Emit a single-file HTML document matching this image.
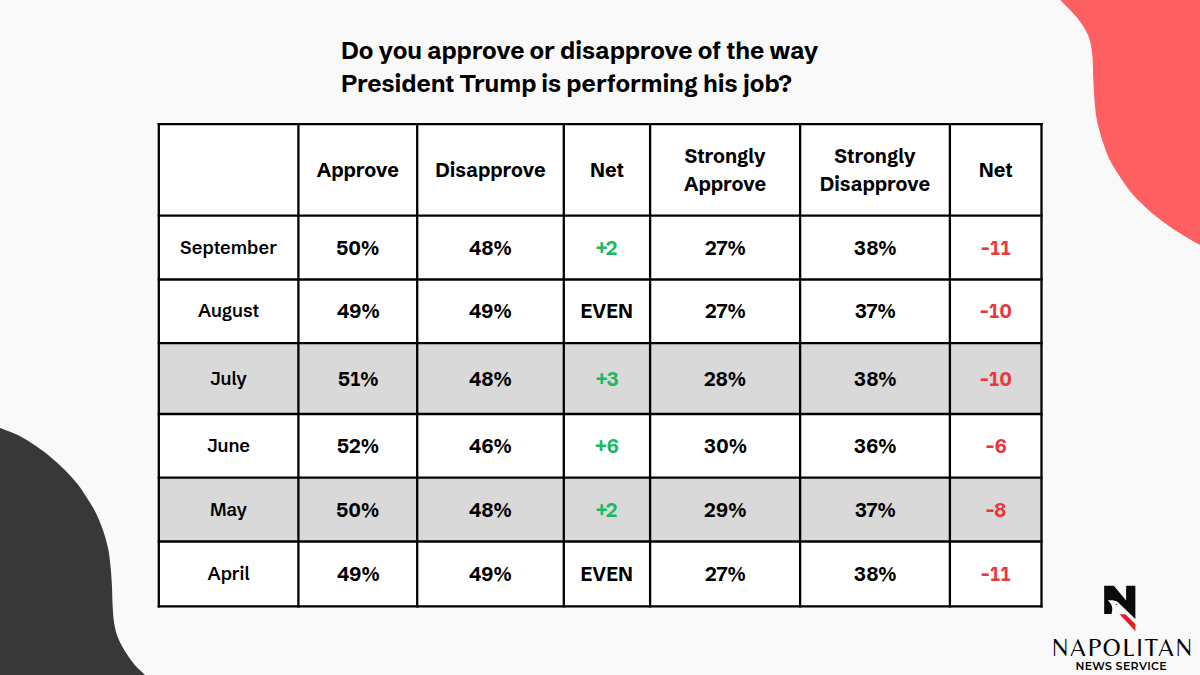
<!DOCTYPE html>
<html><head><meta charset="utf-8"><style>
html,body{margin:0;padding:0}
body{width:1200px;height:675px;position:relative;overflow:hidden;background:#f9f9f9;font-family:"Schibsted Grotesk","Liberation Sans",sans-serif;color:#000}
.abs{position:absolute}
svg.bg{position:absolute;left:0;top:0}
.title{position:absolute;left:341px;top:34px;font-size:24px;font-weight:660;line-height:33px;white-space:nowrap;letter-spacing:0}
.c{position:absolute;display:flex;align-items:center;justify-content:center;text-align:center;white-space:nowrap}
.c span{display:block}
.h{font-size:19.6px;font-weight:700;line-height:28px}
.l{font-size:18.2px;font-weight:600;line-height:20px}
.v{font-size:20.5px;font-weight:700;line-height:20px}
.v span{transform:scaleX(0.95)}
.one{font-family:'IBM Plex Sans Condensed','Liberation Sans',sans-serif}
.one{font-weight:inherit}
.g{color:#1bb960}
.r{color:#e9383c}
.logo1{position:absolute;left:1052px;top:634px;font-family:Belleza,'Liberation Sans',sans-serif;font-size:24.5px;font-weight:400;letter-spacing:1.8px;line-height:26px;white-space:nowrap}
.logo2{position:absolute;left:1075px;top:660px;font-family:Montserrat,'Liberation Sans',sans-serif;font-size:11px;font-weight:600;letter-spacing:0.4px;line-height:12px;white-space:nowrap}
</style></head><body>
<svg class="bg" width="1200" height="675" viewBox="0 0 1200 675">
<path d="M1056.50,-4.00 C1057.12,-3.33 1056.77,-3.63 1060.20,0.00 C1063.63,3.63 1072.43,11.87 1077.10,17.80 C1081.77,23.73 1085.67,29.40 1088.20,35.60 C1090.73,41.80 1091.45,47.60 1092.30,55.00 C1093.15,62.40 1092.93,72.43 1093.30,80.00 C1093.67,87.57 1093.97,94.07 1094.50,100.40 C1095.03,106.73 1095.67,112.90 1096.50,118.00 C1097.33,123.10 1098.37,126.78 1099.50,131.00 C1100.63,135.22 1101.63,138.55 1103.30,143.30 C1104.97,148.05 1106.98,154.32 1109.50,159.50 C1112.02,164.68 1114.87,169.00 1118.40,174.40 C1121.93,179.80 1126.78,187.02 1130.70,191.90 C1134.62,196.78 1137.85,199.75 1141.90,203.70 C1145.95,207.65 1150.15,211.65 1155.00,215.60 C1159.85,219.55 1165.18,223.45 1171.00,227.40 C1176.82,231.35 1185.07,236.37 1189.90,239.30 C1194.73,242.23 1196.98,243.30 1200.00,245.00 C1203.02,246.70 1206.67,248.75 1208.00,249.50 L1210,249.5 L1210,-4 Z" fill="#fe6062"/>
<path d="M-6.00,426.00 C-5.00,426.33 -3.97,426.48 0.00,428.00 C3.97,429.52 11.87,432.13 17.80,435.10 C23.73,438.07 30.20,442.20 35.60,445.80 C41.00,449.40 45.32,452.67 50.20,456.70 C55.08,460.73 60.45,465.57 64.90,470.00 C69.35,474.43 73.35,478.85 76.90,483.30 C80.45,487.75 83.12,491.93 86.20,496.70 C89.28,501.47 92.63,506.42 95.40,511.90 C98.17,517.38 100.72,523.68 102.80,529.60 C104.88,535.52 106.63,541.50 107.90,547.40 C109.17,553.30 109.73,558.73 110.40,565.00 C111.07,571.27 111.53,578.33 111.90,585.00 C112.27,591.67 112.25,598.78 112.60,605.00 C112.95,611.22 113.18,617.07 114.00,622.30 C114.82,627.53 115.73,631.70 117.50,636.40 C119.27,641.10 121.78,645.80 124.60,650.50 C127.42,655.20 131.00,660.52 134.40,664.60 C137.80,668.68 142.57,672.60 145.00,675.00 C147.43,677.40 148.33,678.33 149.00,679.00 L-6,679 Z" fill="#383838"/>
<rect x="158.8" y="124.1" width="882.7" height="91.5" fill="#ffffff"/><rect x="158.8" y="215.6" width="882.7" height="63.900000000000006" fill="#ffffff"/><rect x="158.8" y="279.5" width="882.7" height="63.69999999999999" fill="#ffffff"/><rect x="158.8" y="343.2" width="882.7" height="70.80000000000001" fill="#d9d9d9"/><rect x="158.8" y="414.0" width="882.7" height="63.69999999999999" fill="#ffffff"/><rect x="158.8" y="477.7" width="882.7" height="63.80000000000001" fill="#d9d9d9"/><rect x="158.8" y="541.5" width="882.7" height="64.89999999999998" fill="#ffffff"/><line x1="158.8" y1="122.94999999999999" x2="158.8" y2="607.55" stroke="#000" stroke-width="2.3"/><line x1="298.4" y1="122.94999999999999" x2="298.4" y2="607.55" stroke="#000" stroke-width="2.3"/><line x1="417.2" y1="122.94999999999999" x2="417.2" y2="607.55" stroke="#000" stroke-width="2.3"/><line x1="563.8" y1="122.94999999999999" x2="563.8" y2="607.55" stroke="#000" stroke-width="2.3"/><line x1="650.1" y1="122.94999999999999" x2="650.1" y2="607.55" stroke="#000" stroke-width="2.3"/><line x1="800.1" y1="122.94999999999999" x2="800.1" y2="607.55" stroke="#000" stroke-width="2.3"/><line x1="949.9" y1="122.94999999999999" x2="949.9" y2="607.55" stroke="#000" stroke-width="2.3"/><line x1="1041.5" y1="122.94999999999999" x2="1041.5" y2="607.55" stroke="#000" stroke-width="2.3"/><line x1="157.65" y1="124.1" x2="1042.65" y2="124.1" stroke="#000" stroke-width="2.3"/><line x1="157.65" y1="215.6" x2="1042.65" y2="215.6" stroke="#000" stroke-width="2.3"/><line x1="157.65" y1="279.5" x2="1042.65" y2="279.5" stroke="#000" stroke-width="2.3"/><line x1="157.65" y1="343.2" x2="1042.65" y2="343.2" stroke="#000" stroke-width="2.3"/><line x1="157.65" y1="414.0" x2="1042.65" y2="414.0" stroke="#000" stroke-width="2.3"/><line x1="157.65" y1="477.7" x2="1042.65" y2="477.7" stroke="#000" stroke-width="2.3"/><line x1="157.65" y1="541.5" x2="1042.65" y2="541.5" stroke="#000" stroke-width="2.3"/><line x1="157.65" y1="606.4" x2="1042.65" y2="606.4" stroke="#000" stroke-width="2.3"/>
</svg>
<div class="title">Do you approve or disapprove of the way<br>President Trump is performing his job?</div>
<div class="c h" style="left:298.4px;top:124.1px;width:118.8px;height:91.5px"><span>Approve</span></div><div class="c h" style="left:417.2px;top:124.1px;width:146.6px;height:91.5px"><span>Disapprove</span></div><div class="c h" style="left:563.8px;top:124.1px;width:86.3px;height:91.5px"><span>Net</span></div><div class="c h" style="left:650.1px;top:124.1px;width:150.0px;height:91.5px"><span>Strongly<br>Approve</span></div><div class="c h" style="left:800.1px;top:124.1px;width:149.8px;height:91.5px"><span>Strongly<br>Disapprove</span></div><div class="c h" style="left:949.9px;top:124.1px;width:91.6px;height:91.5px"><span>Net</span></div><div class="c l" style="left:158.8px;top:215.6px;width:139.6px;height:63.9px"><span>September</span></div><div class="c v" style="left:298.4px;top:215.6px;width:118.8px;height:63.9px"><span>50%</span></div><div class="c v" style="left:417.2px;top:215.6px;width:146.6px;height:63.9px"><span>48%</span></div><div class="c v g" style="left:563.8px;top:215.6px;width:86.3px;height:63.9px"><span>+2</span></div><div class="c v" style="left:650.1px;top:215.6px;width:150.0px;height:63.9px"><span>27%</span></div><div class="c v" style="left:800.1px;top:215.6px;width:149.8px;height:63.9px"><span>38%</span></div><div class="c v r" style="left:949.9px;top:215.6px;width:91.6px;height:63.9px"><span>-<b class="one">1</b><b class="one">1</b></span></div><div class="c l" style="left:158.8px;top:279.5px;width:139.6px;height:63.7px"><span>August</span></div><div class="c v" style="left:298.4px;top:279.5px;width:118.8px;height:63.7px"><span>49%</span></div><div class="c v" style="left:417.2px;top:279.5px;width:146.6px;height:63.7px"><span>49%</span></div><div class="c v " style="left:563.8px;top:279.5px;width:86.3px;height:63.7px"><span>EVEN</span></div><div class="c v" style="left:650.1px;top:279.5px;width:150.0px;height:63.7px"><span>27%</span></div><div class="c v" style="left:800.1px;top:279.5px;width:149.8px;height:63.7px"><span>37%</span></div><div class="c v r" style="left:949.9px;top:279.5px;width:91.6px;height:63.7px"><span>-<b class="one">1</b>0</span></div><div class="c l" style="left:158.8px;top:343.2px;width:139.6px;height:70.8px"><span>July</span></div><div class="c v" style="left:298.4px;top:343.2px;width:118.8px;height:70.8px"><span>5<b class="one">1</b>%</span></div><div class="c v" style="left:417.2px;top:343.2px;width:146.6px;height:70.8px"><span>48%</span></div><div class="c v g" style="left:563.8px;top:343.2px;width:86.3px;height:70.8px"><span>+3</span></div><div class="c v" style="left:650.1px;top:343.2px;width:150.0px;height:70.8px"><span>28%</span></div><div class="c v" style="left:800.1px;top:343.2px;width:149.8px;height:70.8px"><span>38%</span></div><div class="c v r" style="left:949.9px;top:343.2px;width:91.6px;height:70.8px"><span>-<b class="one">1</b>0</span></div><div class="c l" style="left:158.8px;top:414.0px;width:139.6px;height:63.7px"><span>June</span></div><div class="c v" style="left:298.4px;top:414.0px;width:118.8px;height:63.7px"><span>52%</span></div><div class="c v" style="left:417.2px;top:414.0px;width:146.6px;height:63.7px"><span>46%</span></div><div class="c v g" style="left:563.8px;top:414.0px;width:86.3px;height:63.7px"><span>+6</span></div><div class="c v" style="left:650.1px;top:414.0px;width:150.0px;height:63.7px"><span>30%</span></div><div class="c v" style="left:800.1px;top:414.0px;width:149.8px;height:63.7px"><span>36%</span></div><div class="c v r" style="left:949.9px;top:414.0px;width:91.6px;height:63.7px"><span>-6</span></div><div class="c l" style="left:158.8px;top:477.7px;width:139.6px;height:63.8px"><span>May</span></div><div class="c v" style="left:298.4px;top:477.7px;width:118.8px;height:63.8px"><span>50%</span></div><div class="c v" style="left:417.2px;top:477.7px;width:146.6px;height:63.8px"><span>48%</span></div><div class="c v g" style="left:563.8px;top:477.7px;width:86.3px;height:63.8px"><span>+2</span></div><div class="c v" style="left:650.1px;top:477.7px;width:150.0px;height:63.8px"><span>29%</span></div><div class="c v" style="left:800.1px;top:477.7px;width:149.8px;height:63.8px"><span>37%</span></div><div class="c v r" style="left:949.9px;top:477.7px;width:91.6px;height:63.8px"><span>-8</span></div><div class="c l" style="left:158.8px;top:541.5px;width:139.6px;height:64.9px"><span>April</span></div><div class="c v" style="left:298.4px;top:541.5px;width:118.8px;height:64.9px"><span>49%</span></div><div class="c v" style="left:417.2px;top:541.5px;width:146.6px;height:64.9px"><span>49%</span></div><div class="c v " style="left:563.8px;top:541.5px;width:86.3px;height:64.9px"><span>EVEN</span></div><div class="c v" style="left:650.1px;top:541.5px;width:150.0px;height:64.9px"><span>27%</span></div><div class="c v" style="left:800.1px;top:541.5px;width:149.8px;height:64.9px"><span>38%</span></div><div class="c v r" style="left:949.9px;top:541.5px;width:91.6px;height:64.9px"><span>-<b class="one">1</b><b class="one">1</b></span></div>
<svg class="abs" style="left:1098px;top:582px" width="44" height="52" viewBox="0 0 571 675">
<path d="M80,50 L205,50 L365,240 L365,50 L485,50 L485,480 L260,262 C230,240 170,232 125,240 C160,262 185,300 185,345 C185,380 178,400 175,415 L80,415 Z" fill="#0a0a0a"/>
<circle cx="237" cy="290" r="9" fill="#333"/>
<path d="M280,420 L355,420 L485,545 L485,640 Z" fill="#e31e26"/>
</svg>
<svg class="abs" style="left:1040px;top:630px" width="160" height="45" viewBox="1040 630 160 45">
<text x="1051.8" y="655.7" textLength="140.4" lengthAdjust="spacing" style="font-family:Belleza,'Liberation Sans',sans-serif;font-size:24.5px;font-weight:400">NAPOLITAN</text>
<text x="1075.4" y="670" textLength="91.2" lengthAdjust="spacing" style="font-family:Montserrat,'Liberation Sans',sans-serif;font-size:11px;font-weight:600">NEWS SERVICE</text>
</svg>
</body></html>
